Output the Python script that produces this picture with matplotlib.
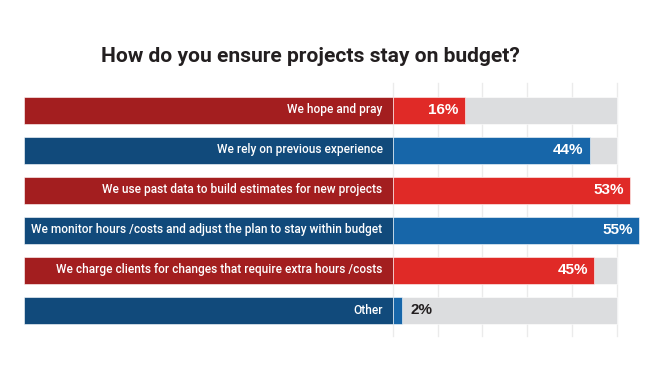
"""Survey bar chart: how do you ensure projects stay on budget?"""

import matplotlib

matplotlib.use("Agg")

import matplotlib.pyplot as plt

answers = [
    "We hope and pray",
    "We rely on previous experience",
    "We use past data to build estimates for new projects",
    "We monitor hours /costs and adjust the plan to stay within budget",
    "We charge clients for changes that require extra hours /costs",
    "Other",
]
shares = [16, 44, 53, 55, 45, 2]
grid_ticks = [0, 10, 20, 30, 40, 50]
title = "How do you ensure projects stay on budget?"

DARK = ("#A31E1F", "#114A7B")
BRIGHT = ("#E02A27", "#1766A9")
TRACK = "#DCDDDF"
INK = "#231F20"

PX_PER_PCT = 4.47
ZERO_PX = 393
LABEL_LEFT_PX = 24
ROW_PX = 40
FIRST_ROW_PX = 110

figure = plt.figure(figsize=(6.57, 3.73), dpi=100)
axis = figure.add_axes([0, 0, 1, 1])
axis.axis("off")
axis.set_xlim(-ZERO_PX / PX_PER_PCT, (657 - ZERO_PX) / PX_PER_PCT)
axis.set_ylim((373 - FIRST_ROW_PX) / ROW_PX, -FIRST_ROW_PX / ROW_PX)
renderer = figure.canvas.get_renderer()


def fit_width(texts, target_px):
    # shrink a shared font size until the widest text spans target_px
    widest = max(text.get_window_extent(renderer).width for text in texts)
    scale = target_px / widest
    for text in texts:
        text.set_fontsize(text.get_fontsize() * scale)


label_width = (ZERO_PX - LABEL_LEFT_PX) / PX_PER_PCT
bar_height = 27 / ROW_PX
rows = range(len(answers))
sans = ["Roboto", "DejaVu Sans"]

for tick in grid_ticks:
    axis.plot([tick, tick], [-0.675, 5.65], color="#EBEBEB", linewidth=1, zorder=0)

labels = []
for row, answer, share in zip(rows, answers, shares):
    tone = row % 2
    axis.barh(row, label_width, left=-label_width, height=bar_height,
              color=DARK[tone], edgecolor="white", linewidth=0.4, zorder=2)
    axis.barh(row, grid_ticks[-1], height=bar_height, color=TRACK,
              edgecolor="white", linewidth=0.4, zorder=1)
    axis.barh(row, share, height=bar_height, color=BRIGHT[tone],
              edgecolor="white", linewidth=0.4, zorder=2)
    labels.append(axis.annotate(answer, (0, row), xytext=(-7.5, 0),
                                textcoords="offset points", ha="right",
                                va="center", color="white", fontsize=12,
                                family=sans, fontweight="medium", zorder=3))
    if share >= 10:
        axis.annotate(f"{share}%", (share, row), xytext=(-4.5, 0),
                      textcoords="offset points", ha="right", va="center",
                      color="white", fontsize=11, fontweight="bold",
                      family="Liberation Sans", zorder=3)
    else:
        axis.annotate(f"{share}%", (share, row), xytext=(6.5, 0),
                      textcoords="offset points", ha="left", va="center",
                      color=INK, fontsize=11, fontweight="bold",
                      family="Liberation Sans", zorder=3)

heading = axis.text((310 - ZERO_PX) / PX_PER_PCT, (57 - FIRST_ROW_PX) / ROW_PX,
                    title, ha="center", va="center", color=INK, fontsize=16,
                    fontweight="bold", family=sans)

fit_width(labels, 350)
fit_width([heading], 420)

figure.savefig("out.png", dpi=100)
